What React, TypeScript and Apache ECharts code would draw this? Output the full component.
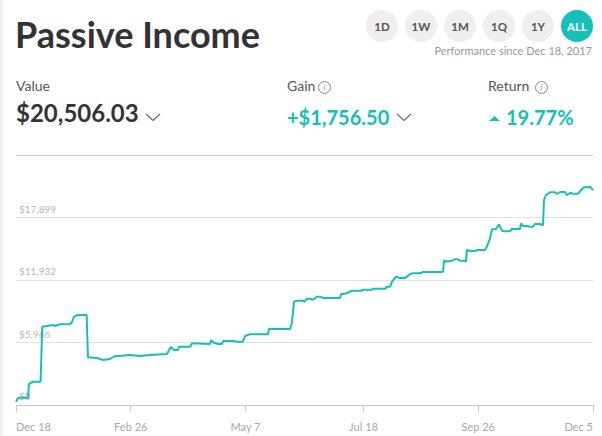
import React, { useEffect, useRef } from "react";
import * as echarts from "echarts";

const TEAL = "#15c0b8";

// days since Dec 18, 2017 and portfolio value ($)
const daysSinceStart = [
  0, 1.2, 2.4, 7.3, 7.9, 10.4, 15, 16, 22.6, 23.8, 26.8, 33, 34.2, 35.4, 37.8, 43.1, 43.9,
  49.4, 53.1, 57.3, 60.4, 64.7, 69.5, 75.6, 81.7, 92.1, 94.4, 96.4, 98.8, 99.6, 106.2,
  107.4, 118.4, 119, 120.8, 123.2, 125.7, 126.3, 132.4, 134.8, 138.5, 139.7, 142.8,
  153.7, 154.3, 167.2, 168.3, 169.6, 171.4, 175.1, 175.7, 177.5, 179.4, 181.2, 183.6,
  185.5, 187.3, 197.7, 198.3, 201.9, 203.8, 205.6, 211.1, 211.7, 217.2, 217.8, 225.1,
  226.3, 228.2, 229.4, 231.8, 234.3, 237.3, 238.5, 240.4, 242.2, 246.5, 248.3, 259.3,
  260.5, 261.1, 263, 266, 267.8, 269.6, 270.9, 273.9, 274.5, 275.1, 277, 280, 281.9,
  286.1, 287.4, 289.2, 290.4, 292.8, 294.7, 296.5, 297.7, 301.4, 302.6, 307.5, 308.1,
  309.3, 311.7, 313.6, 315.4, 316.6, 319.7, 320.9, 321.5, 322.1, 323.3, 325.8, 328.8,
  330, 331.9, 334.9, 336.1, 338, 339.8, 342.9, 344.1, 346.5, 349, 350.2, 352,
];
const portfolioValues = [
  315, 668, 697, 697, 2005, 2224, 2224, 7474, 7637, 7541, 7704, 7732, 7923, 8429, 8591, 8591, 4553,
  4487, 4296, 4391, 4678, 4706, 4773, 4678, 4773, 4868, 5537, 5250, 5250, 5565, 5565,
  5890, 5823, 6205, 5947, 5823, 5823, 6109, 6109, 6043, 6043, 6587, 6749,
  6749, 7255, 7255, 7828, 9861, 9956, 9956, 9832, 10147, 10147, 10052, 10338,
  10338, 10214, 10214, 10567, 10663, 10854, 10911, 10911, 11007, 11007, 11102, 11102,
  11293, 11293, 11770, 12248, 12123, 12123, 12248, 12505, 12572, 12572, 12696, 12696,
  12725, 13775, 13699, 13775, 13909, 13909, 13775, 13775, 13680, 14796, 14729, 14700, 14796,
  14796, 15178, 15913, 16772, 16801, 17250, 16639, 16581, 16581, 16830, 16801, 17345,
  17087, 17087, 17020, 17020, 17278, 17278, 17183, 17183, 19569, 20047, 20304, 20304,
  20142, 20333, 20333, 20018, 20266, 20171, 20171, 20400, 20782, 20782, 20839, 20506,
];

const xTickDays = [0, 70, 140, 212, 282, 352];
const xTickLabels = ["Dec 18", "Feb 26", "May 7", "Jul 18", "Sep 26", "Dec 5"];
const yTickLabels = ["$0", "$5,966", "$11,932", "$17,899", ""];
const Y_STEP = 5966.33;
const periodButtons = ["1D", "1W", "1M", "1Q", "1Y", "ALL"];

const Chevron = ({ x, y }: { x: number; y: number }) => (
  <svg style={{ position: "absolute", left: x, top: y }} width={16} height={9}>
    <polyline points="1,1 8,7.5 15,1" fill="none" stroke="#666" strokeWidth={1.1} />
  </svg>
);

const Info = ({ x, y }: { x: number; y: number }) => (
  <div
    style={{
      position: "absolute", left: x, top: y, width: 11, height: 11, borderRadius: "50%",
      border: "1px solid #888", color: "#888", fontSize: 8, lineHeight: "11px",
      textAlign: "center", fontWeight: 400,
    }}
  >
    i
  </div>
);

export default function App() {
  const ref = useRef<HTMLDivElement>(null);
  useEffect(() => {
    if (!ref.current) return;
    const chart = echarts.init(ref.current, null, { renderer: "svg" });
    chart.setOption({
      animation: false,
      grid: { left: 16, right: 9, top: 155, bottom: 31 },
      xAxis: {
        type: "value",
        min: 0,
        max: 352,
        offset: 6,
        axisLine: { show: false },
        splitLine: { show: false },
        axisTick: { show: true, length: 7, customValues: xTickDays, lineStyle: { color: "#c8c8c8" } },
        axisLabel: {
          customValues: xTickDays,
          formatter: (v: number) => xTickLabels[xTickDays.indexOf(v)] ?? "",
          color: "#a8a8a8",
          fontFamily: "Lato",
          fontSize: 11,
          margin: 10,
          alignMinLabel: "left",
          alignMaxLabel: "right",
        },
      },
      yAxis: {
        type: "value",
        min: 0,
        max: Y_STEP * 4,
        interval: Y_STEP,
        axisLine: { show: false },
        axisTick: { show: false },
        splitLine: { lineStyle: { color: ["#c8c8c8", "#e2e2e2", "#e2e2e2", "#e2e2e2", "#c8c8c8"], width: 1 } },
        axisLabel: {
          inside: true,
          margin: 3,
          verticalAlign: "bottom",
          padding: [0, 0, 4, 0],
          showMaxLabel: false,
          color: "#b8b8b8",
          fontFamily: "Lato",
          fontSize: 10,
          formatter: (_v: number, i: number) => yTickLabels[i] ?? "",
        },
      },
      series: [
        {
          type: "line",
          data: daysSinceStart.map((d, i) => [d, portfolioValues[i]]),
          showSymbol: false,
          symbol: "none",
          lineStyle: { color: TEAL, width: 2 },
          z: 5,
        },
      ],
    });
    return () => chart.dispose();
  }, []);

  const btnCenters = [382, 421, 460, 499, 538, 577];

  return (
    <div
      style={{
        position: "fixed", left: 0, top: 0, width: 602, height: 436, background: "#fff",
        fontFamily: "Lato, sans-serif", overflow: "hidden",
      }}
    >
      <div style={{ position: "absolute", left: 0, top: 0, width: 4, height: 436, background: "linear-gradient(to right, #ececec, #fafafa)" }} />
      <div ref={ref} style={{ position: "absolute", left: 0, top: 0, width: 602, height: 436 }} />
      <div style={{ position: "absolute", left: 15, top: 16, fontSize: 36, lineHeight: "36px", fontWeight: 700, color: "#333", whiteSpace: "nowrap" }}>
        Passive Income
      </div>
      {periodButtons.map((b, i) => (
        <div
          key={b}
          style={{
            position: "absolute", left: btnCenters[i] - 16, top: 10, width: 32, height: 32, borderRadius: "50%",
            background: b === "ALL" ? TEAL : "#efefef", color: b === "ALL" ? "#fff" : "#555",
            fontSize: 11.5, fontWeight: 700, display: "flex", alignItems: "center", justifyContent: "center",
          }}
        >
          {b}
        </div>
      ))}
      <div style={{ position: "absolute", right: 10, top: 45, fontSize: 11, lineHeight: "11px", color: "#999", whiteSpace: "nowrap" }}>
        Performance since Dec 18, 2017
      </div>

      <div style={{ position: "absolute", left: 16, top: 79, fontSize: 14, lineHeight: "14px", color: "#555" }}>Value</div>
      <div style={{ position: "absolute", left: 16, top: 101, fontSize: 24, lineHeight: "24px", fontWeight: 700, color: "#333", whiteSpace: "nowrap" }}>
        $20,506.03
      </div>
      <Chevron x={145} y={113} />

      <div style={{ position: "absolute", left: 287, top: 79, fontSize: 14, lineHeight: "14px", color: "#555" }}>Gain</div>
      <Info x={318} y={81} />
      <div style={{ position: "absolute", left: 287, top: 106.5, fontSize: 20, lineHeight: "20px", fontWeight: 700, color: TEAL, whiteSpace: "nowrap" }}>
        +$1,756.50
      </div>
      <Chevron x={396} y={113} />

      <div style={{ position: "absolute", left: 488, top: 79, fontSize: 14, lineHeight: "14px", color: "#555" }}>Return</div>
      <Info x={535} y={81} />
      <svg style={{ position: "absolute", left: 489, top: 116 }} width={12} height={6}>
        <polygon points="0,5 5.5,0 11,5" fill={TEAL} />
      </svg>
      <div style={{ position: "absolute", left: 506, top: 106.5, fontSize: 20, lineHeight: "20px", fontWeight: 700, color: TEAL, whiteSpace: "nowrap" }}>
        19.77%
      </div>
    </div>
  );
}
